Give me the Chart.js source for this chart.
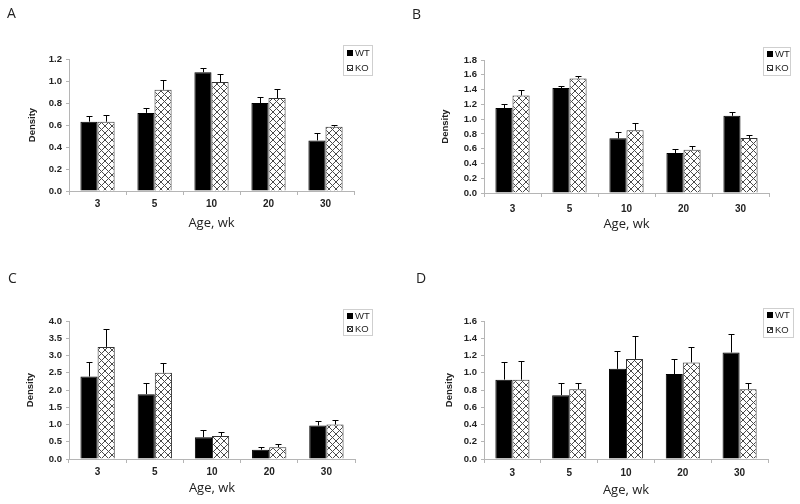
<!DOCTYPE html>
<html>
<head>
<meta charset="utf-8">
<script src="https://cdn.jsdelivr.net/npm/chart.js@4.4.0/dist/chart.umd.min.js"></script>
<style>
  body { margin: 0; background: #fff; }
  #wrap { position: relative; width: 800px; height: 504px; overflow: hidden; }
  .panel { position: absolute; width: 400px; height: 252px; }
  .letter { position: absolute; font-family: "Open Sans", sans-serif; font-size: 14px; color: #222; line-height: 1; }
</style>
</head>
<body>
<div id="wrap">
  <div class="panel" style="left:0;top:0"><canvas id="chartA" width="400" height="252"></canvas></div>
  <div class="panel" style="left:400px;top:0"><canvas id="chartB" width="400" height="252"></canvas></div>
  <div class="panel" style="left:0;top:252px"><canvas id="chartC" width="400" height="252"></canvas></div>
  <div class="panel" style="left:400px;top:252px"><canvas id="chartD" width="400" height="252"></canvas></div>
  <div class="letter" style="left:7px;top:6px">A</div>
  <div class="letter" style="left:412px;top:7px">B</div>
  <div class="letter" style="left:8px;top:271px">C</div>
  <div class="letter" style="left:416px;top:271px">D</div>
</div>
<script>
"use strict";
const ages = ["3", "5", "10", "20", "30"];
const seriesNames = ["WT", "KO"];

// A
const wtA = [0.63, 0.71, 1.08, 0.80, 0.46];
const wtErrA = [0.05, 0.045, 0.04, 0.05, 0.07];
const koA = [0.63, 0.92, 0.99, 0.845, 0.585];
const koErrA = [0.06, 0.085, 0.075, 0.08, 0.015];
// B
const wtB = [1.15, 1.42, 0.74, 0.54, 1.045];
const wtErrB = [0.06, 0.03, 0.09, 0.05, 0.055];
const koB = [1.32, 1.55, 0.85, 0.585, 0.745];
const koErrB = [0.07, 0.04, 0.10, 0.055, 0.045];
// C
const wtC = [2.39, 1.88, 0.63, 0.27, 0.97];
const wtErrC = [0.43, 0.31, 0.20, 0.08, 0.12];
const koC = [3.25, 2.50, 0.67, 0.34, 1.00];
const koErrC = [0.51, 0.29, 0.11, 0.09, 0.13];
// D
const wtD = [0.92, 0.74, 1.045, 0.985, 1.235];
const wtErrD = [0.20, 0.14, 0.205, 0.17, 0.215];
const koD = [0.92, 0.81, 1.16, 1.12, 0.81];
const koErrD = [0.22, 0.07, 0.27, 0.18, 0.07];

// y axis ranges: [max, step]
const yAxisA = [1.2, 0.2];
const yAxisB = [1.8, 0.2];
const yAxisC = [4.0, 0.5];
const yAxisD = [1.6, 0.2];

Chart.defaults.font.family = "'Liberation Sans', Arial, sans-serif";
Chart.defaults.color = "#222";

// crosshatch fill for KO bars
function makeHatch() {
    const s = 7;
    const c = document.createElement("canvas");
    c.width = s; c.height = s;
    const g = c.getContext("2d");
    g.fillStyle = "#fff";
    g.fillRect(0, 0, s, s);
    g.strokeStyle = "#4a4a4a";
    g.lineWidth = 1;
    g.beginPath();
    g.moveTo(0, 0); g.lineTo(s, s);
    g.moveTo(s, 0); g.lineTo(0, s);
    g.stroke();
    return g.createPattern(c, "repeat");
}
const hatch = makeHatch();

// upward error bars with a cap
const errorBars = {
    id: "errorBars",
    afterDatasetsDraw(chart) {
        const ctx = chart.ctx;
        const y = chart.scales.y;
        ctx.save();
        ctx.strokeStyle = "#000";
        ctx.lineWidth = 1;
        chart.data.datasets.forEach((ds, i) => {
            chart.getDatasetMeta(i).data.forEach((bar, j) => {
                const x = Math.round(bar.x) + 0.5;
                const top = Math.round(y.getPixelForValue(ds.data[j] + ds.err[j])) + 0.5;
                ctx.beginPath();
                ctx.moveTo(x, bar.y);
                ctx.lineTo(x, top);
                ctx.moveTo(x - 3, top);
                ctx.lineTo(x + 3, top);
                ctx.stroke();
            });
        });
        ctx.restore();
    }
};

// small boxed legend at a fixed spot
const boxLegend = {
    id: "boxLegend",
    afterDraw(chart, args, opts) {
        const ctx = chart.ctx;
        ctx.save();
        ctx.strokeStyle = "#cfcfcf";
        ctx.lineWidth = 1;
        ctx.strokeRect(opts.x + 0.5, opts.y + 0.5, opts.w, opts.h);
        const rowH = opts.h / 2;
        chart.data.datasets.forEach((ds, i) => {
            const cy = Math.round(opts.y + rowH * (i + 0.5));
            const sx = opts.x + 4;
            ctx.fillStyle = ds.backgroundColor;
            ctx.fillRect(sx, cy - 3, 6, 6);
            ctx.strokeStyle = ds.borderColor;
            ctx.strokeRect(sx + 0.5, cy - 2.5, 5, 5);
            ctx.fillStyle = "#222";
            ctx.font = "9.5px 'Liberation Sans', Arial, sans-serif";
            ctx.textBaseline = "middle";
            ctx.fillText(ds.label, sx + 8, cy + 0.5);
        });
        ctx.restore();
    }
};

function drawPanel(id, wt, wtErr, ko, koErr, yAxis, lay) {
    const W = 400, H = 252;
    new Chart(document.getElementById(id), {
        type: "bar",
        data: {
            labels: ages,
            datasets: [
                { label: seriesNames[0], data: wt, err: wtErr, backgroundColor: "#000", borderColor: "#000", borderWidth: 1 },
                { label: seriesNames[1], data: ko, err: koErr, backgroundColor: hatch, borderColor: "#333", borderWidth: 1 }
            ]
        },
        options: {
            responsive: false,
            animation: false,
            events: [],
            layout: { padding: { top: lay.top, right: W - lay.right, left: 0, bottom: 0 } },
            datasets: { bar: { categoryPercentage: 0.6, barPercentage: 1.0 } },
            plugins: {
                legend: { display: false },
                tooltip: { enabled: false },
                boxLegend: lay.legend
            },
            scales: {
                x: {
                    offset: true,
                    grid: { offset: true, drawOnChartArea: false, tickLength: 4, color: "#b5b5b5" },
                    border: { color: "#b5b5b5" },
                    ticks: { padding: lay.labelPad, font: { size: 10, weight: "bold" }, color: "#222" },
                    title: {
                        display: true, text: "Age, wk", color: "#222",
                        font: { family: "'Open Sans', sans-serif", size: 13, lineHeight: 1.2 },
                        padding: { top: 0, bottom: H - lay.titleY - 7.8 }
                    },
                    afterFit(scale) { scale.height = H - lay.bottom; }
                },
                y: {
                    min: 0, max: yAxis[0],
                    grid: { drawOnChartArea: false, tickLength: 3, color: "#b5b5b5" },
                    border: { color: "#b5b5b5" },
                    ticks: { stepSize: yAxis[1], padding: 4, font: { size: 9.5, weight: "bold" }, color: "#222",
                        callback: (v) => Number(v).toFixed(1) },
                    title: {
                        display: true, text: "Density", color: "#222",
                        font: { size: 9.5, weight: "bold", lineHeight: 1.2 },
                        padding: { top: lay.titleX - 5.7, bottom: 0 }
                    },
                    afterFit(scale) { scale.width = lay.left; }
                }
            }
        },
        plugins: [errorBars, boxLegend]
    });
}

drawPanel("chartA", wtA, wtErrA, koA, koErrA, yAxisA,
    { left: 69, right: 354, top: 59, bottom: 191, labelPad: 3, titleY: 223, titleX: 32, legend: { x: 343, y: 45, w: 29, h: 30 } });
drawPanel("chartB", wtB, wtErrB, koB, koErrB, yAxisB,
    { left: 84, right: 369, top: 60, bottom: 193, labelPad: 6, titleY: 224, titleX: 45, legend: { x: 363, y: 47, w: 27, h: 28 } });
drawPanel("chartC", wtC, wtErrC, koC, koErrC, yAxisC,
    { left: 69, right: 355, top: 69, bottom: 207, labelPad: 3, titleY: 236, titleX: 30, legend: { x: 343, y: 57, w: 29, h: 26 } });
drawPanel("chartD", wtD, wtErrD, koD, koErrD, yAxisD,
    { left: 84, right: 368, top: 69, bottom: 207, labelPad: 4, titleY: 238, titleX: 49, legend: { x: 363, y: 56, w: 30, h: 29 } });
</script>
</body>
</html>
